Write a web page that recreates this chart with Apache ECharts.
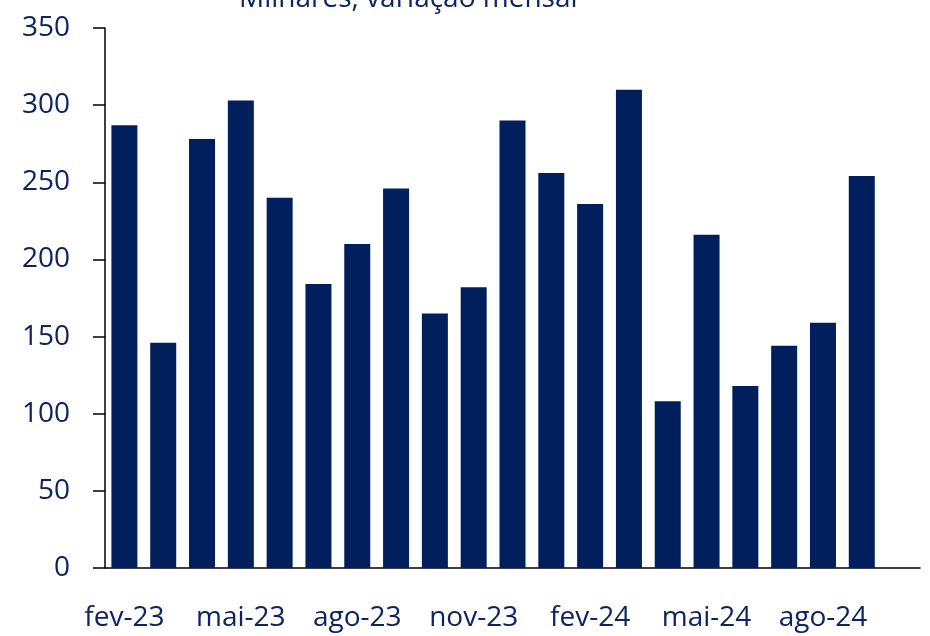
<!DOCTYPE html>
<html>
<head>
<meta charset="utf-8">
<script src="https://cdn.jsdelivr.net/npm/echarts@6/dist/echarts.min.js"></script>
<style>
  html, body { margin: 0; padding: 0; background: #fff; }
  #chart { width: 930px; height: 636px; }
</style>
</head>
<body>
<div id="chart"></div>
<script>
const months = [
  'fev-23', 'mar-23', 'abr-23', 'mai-23', 'jun-23', 'jul-23', 'ago-23',
  'set-23', 'out-23', 'nov-23', 'dez-23', 'jan-24', 'fev-24', 'mar-24',
  'abr-24', 'mai-24', 'jun-24', 'jul-24', 'ago-24', 'set-24', 'out-24'
];
// milhares, variação mensal (out-24 sem dado)
const jobs = [
  287, 146, 278, 303, 240, 184, 210, 246, 165, 182,
  290, 256, 236, 310, 108, 216, 118, 144, 159, 254, null
];
const yTicks = { min: 0, max: 350, step: 50 };

const textColor = '#0d2460';
const barColor = '#001f5c';
const fontFamily = '"Open Sans", "Noto Sans", sans-serif';

const chart = echarts.init(document.getElementById('chart'));

chart.setOption({
  animation: false,
  title: {
    text: 'Milhares, variação mensal',
    left: 234,
    top: -20,
    textStyle: {
      color: textColor,
      fontFamily: fontFamily,
      fontSize: 28,
      fontWeight: 'normal',
    },
  },
  grid: {
    left: 105,
    right: 10,
    top: 28,
    bottom: 68,
  },
  xAxis: {
    type: 'category',
    data: months,
    axisLine: {
      lineStyle: { color: '#000', width: 1.5 },
    },
    axisTick: { show: false },
    axisLabel: {
      interval: 2,
      margin: 36,
      color: textColor,
      fontFamily: fontFamily,
      fontSize: 28,
    },
  },
  yAxis: {
    type: 'value',
    min: yTicks.min,
    max: yTicks.max,
    interval: yTicks.step,
    axisLine: {
      show: true,
      lineStyle: { color: '#000', width: 1.5 },
    },
    axisTick: {
      show: true,
      length: 12,
      lineStyle: { color: '#000', width: 1.5 },
    },
    splitLine: { show: false },
    axisLabel: {
      margin: 35,
      color: textColor,
      fontFamily: fontFamily,
      fontSize: 28,
    },
  },
  series: [
    {
      type: 'bar',
      data: jobs,
      barCategoryGap: '33%',
      itemStyle: { color: barColor },
    },
  ],
});
</script>
</body>
</html>
